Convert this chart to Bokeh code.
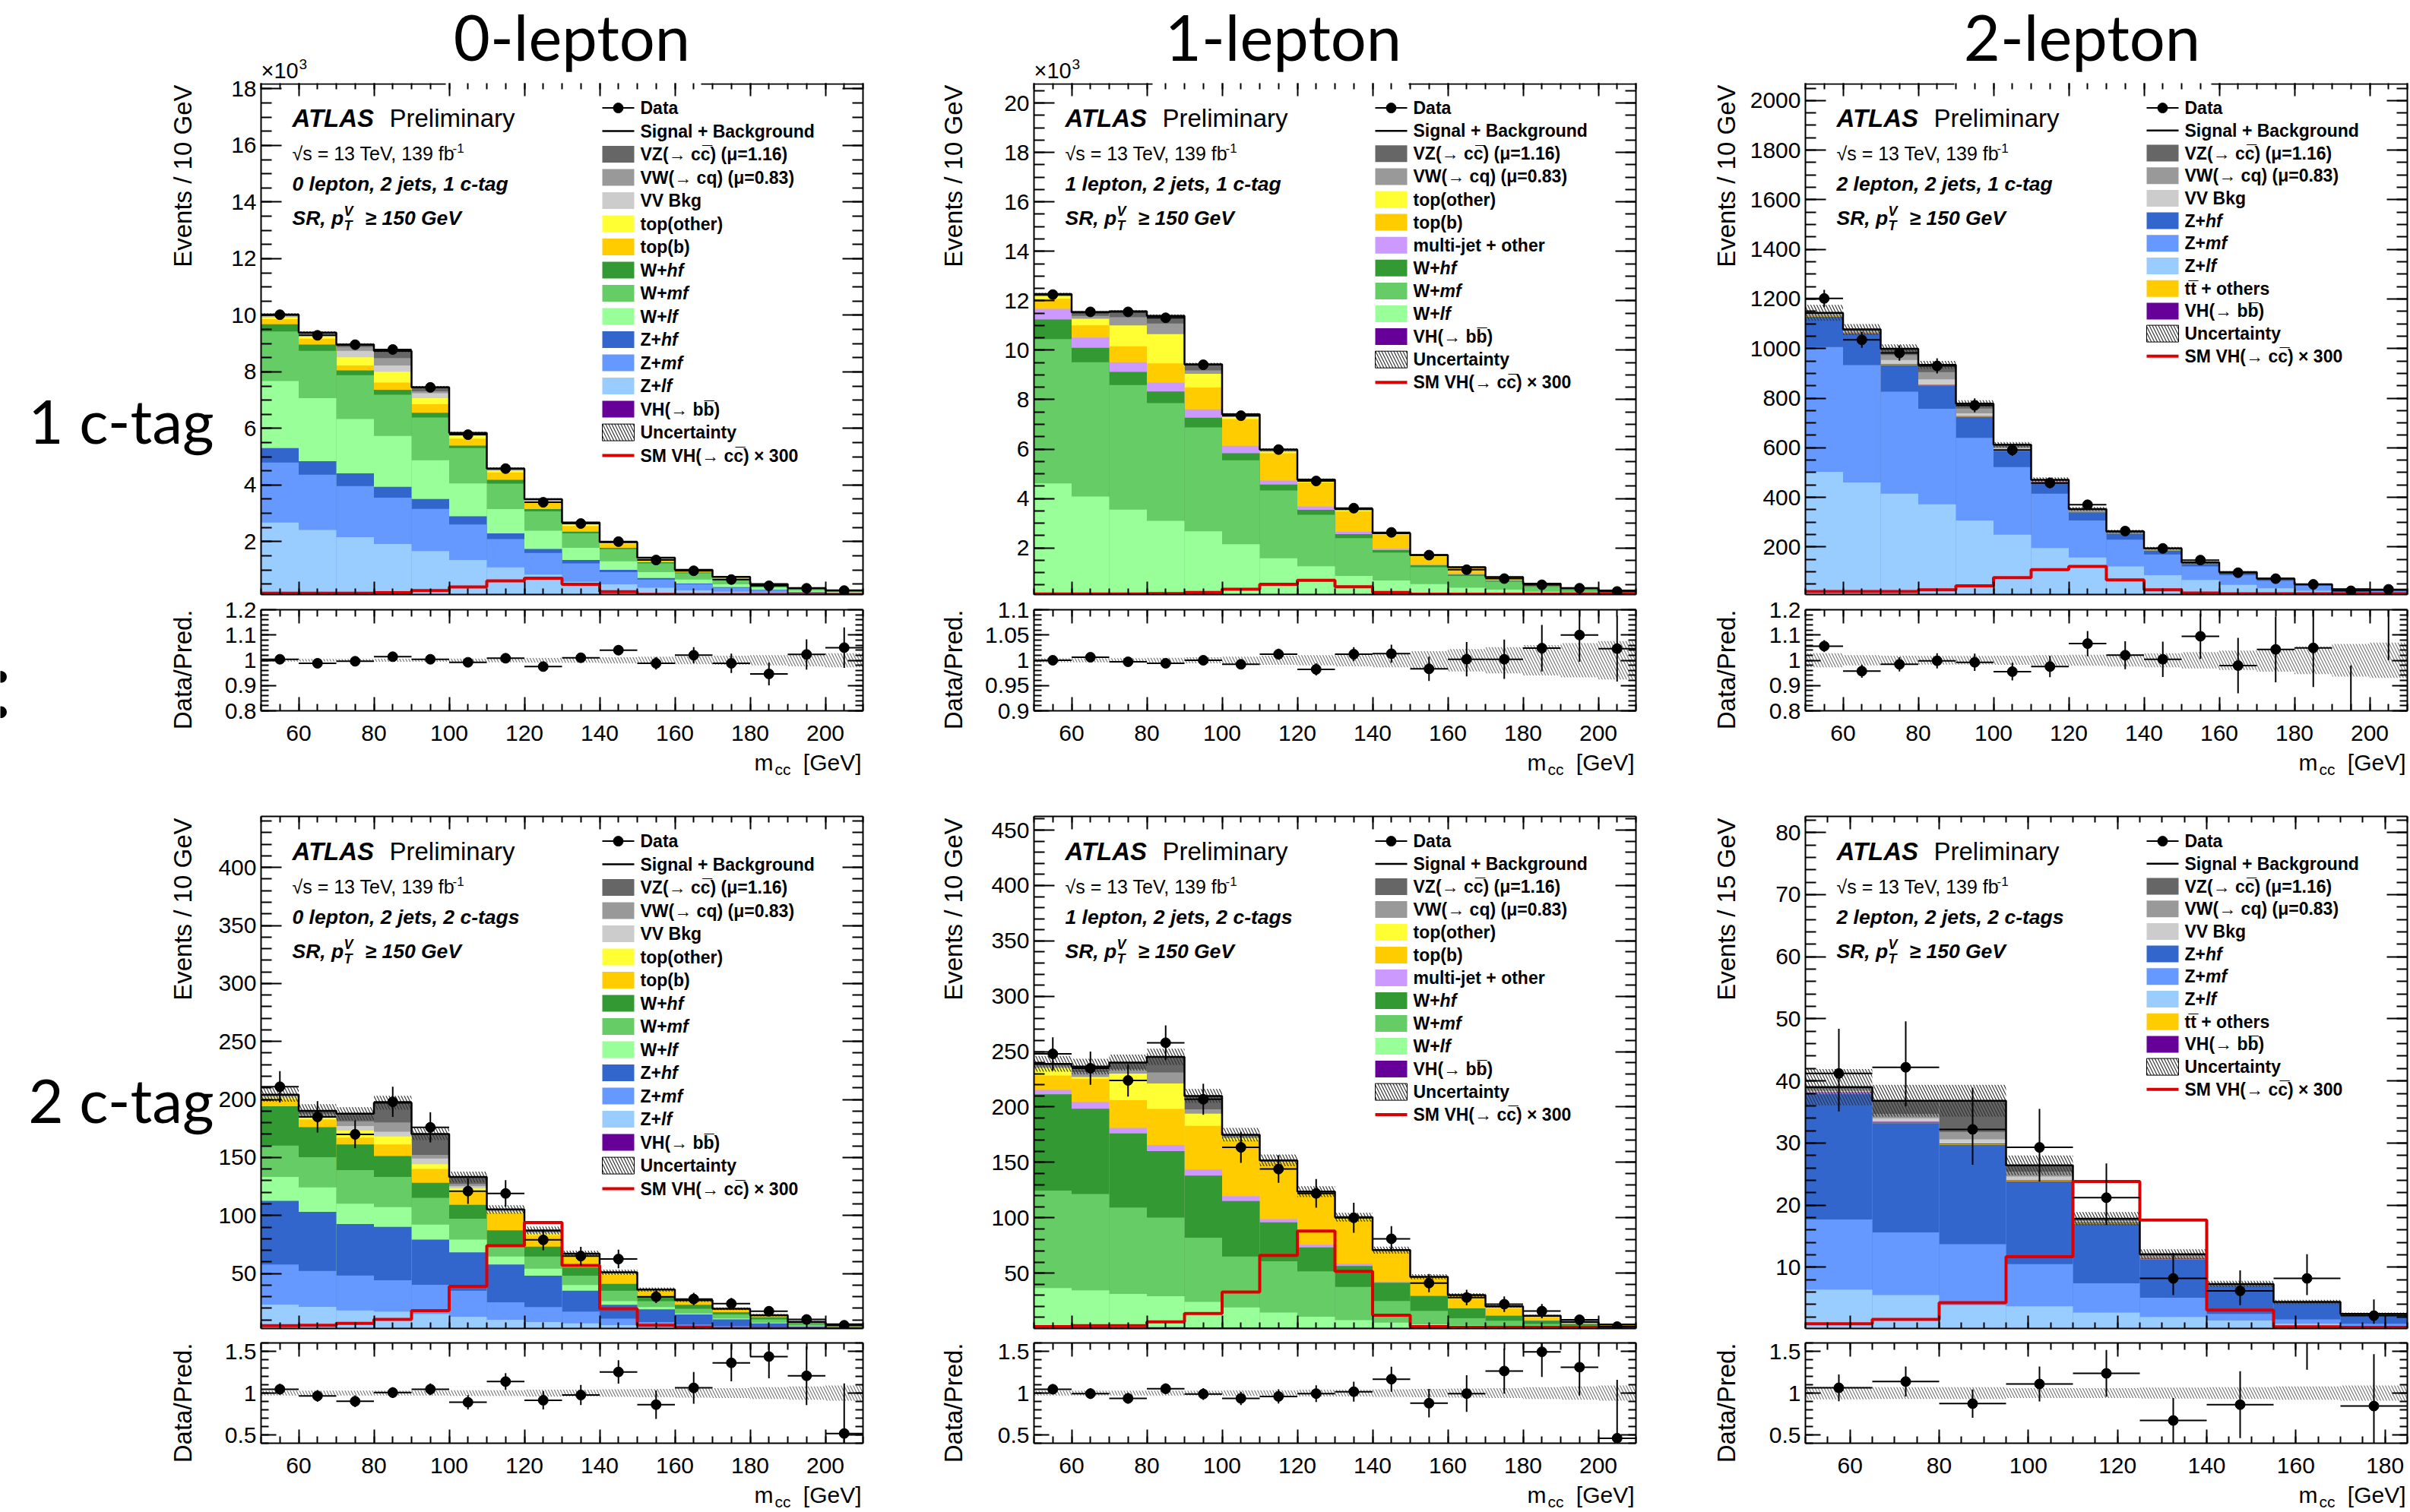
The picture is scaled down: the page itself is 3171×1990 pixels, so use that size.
import numpy as np
from bokeh.plotting import figure
from bokeh.layouts import row, column
from bokeh.models import Label, LinearAxis, FixedTicker, CustomJSTickFormatter, Range1d
from bokeh.embed import file_html
from bokeh.resources import INLINE

# ====================== DATA ======================
edges_10gev = [50, 60, 70, 80, 90, 100, 110, 120, 130, 140, 150, 160, 170, 180, 190, 200, 210]
edges_15gev = [50, 65, 80, 95, 110, 125, 140, 155, 170, 185]

# ---- 0 lepton, 2 jets, 1 c-tag  (events x 10^3) ----
l0c1_vhbb = [0.004, 0.004, 0.004, 0.004, 0.004, 0.004, 0.003, 0.003, 0.002, 0.002, 0.001, 0.001, 0.001, 0.001, 0.001, 0.001]
l0c1_zlf = [2.67, 2.41, 2.15, 1.91, 1.66, 1.35, 1.09, 0.83, 0.58, 0.49, 0.37, 0.28, 0.23, 0.20, 0.15, 0.12]
l0c1_zmf = [2.12, 1.95, 1.81, 1.64, 1.49, 1.25, 1.00, 0.77, 0.65, 0.43, 0.29, 0.21, 0.14, 0.08, 0.06, 0.05]
l0c1_zhf = [0.51, 0.48, 0.45, 0.38, 0.35, 0.29, 0.20, 0.14, 0.12, 0.08, 0.05, 0.03, 0.02, 0.02, 0.01, 0.01]
l0c1_wlf = [2.37, 2.23, 1.92, 1.80, 1.37, 1.16, 0.86, 0.64, 0.43, 0.30, 0.21, 0.14, 0.10, 0.07, 0.05, 0.04]
l0c1_wmf = [1.75, 1.67, 1.55, 1.46, 1.51, 1.25, 0.90, 0.69, 0.51, 0.43, 0.31, 0.22, 0.15, 0.09, 0.06, 0.04]
l0c1_whf = [0.26, 0.22, 0.17, 0.17, 0.17, 0.09, 0.13, 0.08, 0.06, 0.05, 0.04, 0.03, 0.02, 0.01, 0.01, 0.005]
l0c1_topb = [0.18, 0.21, 0.17, 0.26, 0.30, 0.25, 0.26, 0.21, 0.20, 0.14, 0.08, 0.04, 0.04, 0.01, 0.01, 0.005]
l0c1_topo = [0.05, 0.08, 0.29, 0.38, 0.22, 0.09, 0.05, 0.07, 0.05, 0.03, 0.03, 0.02, 0.02, 0.005, 0.003, 0.002]
l0c1_vv = [0.04, 0.05, 0.23, 0.22, 0.17, 0.04, 0.03, 0.03, 0.03, 0.01, 0.02, 0.01, 0.01, 0.005, 0.003, 0.002]
l0c1_vw = [0.03, 0.04, 0.13, 0.26, 0.07, 0.03, 0.03, 0.02, 0.02, 0.01, 0.01, 0.01, 0.01, 0.003, 0.002, 0.001]
l0c1_vz = [0.04, 0.04, 0.09, 0.26, 0.14, 0.04, 0.03, 0.02, 0.02, 0.01, 0.02, 0.01, 0.01, 0.003, 0.002, 0.001]
l0c1_data = [10.02, 9.29, 8.96, 8.79, 7.45, 5.78, 4.58, 3.39, 2.64, 2.00, 1.35, 0.97, 0.66, 0.44, 0.35, 0.27]
l0c1_data_err = [0.10, 0.096, 0.095, 0.094, 0.086, 0.076, 0.068, 0.058, 0.051, 0.045, 0.037, 0.031, 0.026, 0.021, 0.019, 0.016]
l0c1_signal300 = [0.18, 0.18, 0.18, 0.20, 0.27, 0.40, 0.61, 0.71, 0.49, 0.23, 0.14, 0.13, 0.13, 0.13, 0.13, 0.13]
l0c1_ratio = [1.004, 0.988, 0.996, 1.014, 1.004, 0.992, 1.008, 0.975, 1.010, 1.040, 0.988, 1.020, 0.988, 0.946, 1.023, 1.050]
l0c1_ratio_err = [0.008, 0.008, 0.009, 0.010, 0.011, 0.012, 0.014, 0.016, 0.018, 0.020, 0.025, 0.032, 0.038, 0.045, 0.060, 0.080]
l0c1_unc = [0.005, 0.005, 0.005, 0.006, 0.006, 0.007, 0.008, 0.009, 0.010, 0.012, 0.014, 0.016, 0.018, 0.020, 0.024, 0.028]

# ---- 1 lepton, 2 jets, 1 c-tag  (events x 10^3) ----
l1c1_vhbb = [0.02, 0.02, 0.02, 0.02, 0.02, 0.015, 0.015, 0.01, 0.01, 0.01, 0.005, 0.005, 0.004, 0.003, 0.002, 0.002]
l1c1_wlf = [4.59, 4.06, 3.53, 3.08, 2.65, 2.14, 1.57, 1.25, 0.86, 0.67, 0.53, 0.39, 0.31, 0.23, 0.16, 0.12]
l1c1_wmf = [5.84, 5.43, 5.04, 4.76, 4.21, 3.39, 2.74, 2.08, 1.53, 1.13, 0.69, 0.47, 0.32, 0.20, 0.14, 0.10]
l1c1_whf = [0.79, 0.59, 0.53, 0.47, 0.39, 0.29, 0.24, 0.20, 0.16, 0.10, 0.07, 0.06, 0.04, 0.03, 0.02, 0.015]
l1c1_mj = [0.43, 0.41, 0.39, 0.36, 0.34, 0.30, 0.16, 0.14, 0.10, 0.06, 0.04, 0.04, 0.02, 0.02, 0.01, 0.01]
l1c1_topb = [0.41, 0.49, 0.65, 0.78, 0.88, 1.08, 1.11, 0.98, 0.82, 0.57, 0.32, 0.22, 0.09, 0.05, 0.03, 0.02]
l1c1_topo = [0.10, 0.27, 0.84, 1.18, 0.55, 0.08, 0.06, 0.04, 0.04, 0.02, 0.02, 0.01, 0.02, 0.01, 0.005, 0.003]
l1c1_vw = [0.05, 0.12, 0.33, 0.43, 0.14, 0.06, 0.04, 0.03, 0.03, 0.02, 0.02, 0.02, 0.01, 0.01, 0.005, 0.002]
l1c1_vz = [0.04, 0.14, 0.24, 0.31, 0.25, 0.05, 0.04, 0.03, 0.03, 0.02, 0.02, 0.01, 0.01, 0.003, 0.002, 0.001]
l1c1_data = [12.25, 11.55, 11.55, 11.31, 9.41, 7.35, 5.98, 4.71, 3.61, 2.63, 1.71, 1.12, 0.76, 0.51, 0.37, 0.24]
l1c1_data_err = [0.11, 0.107, 0.107, 0.106, 0.097, 0.086, 0.077, 0.069, 0.060, 0.051, 0.041, 0.033, 0.028, 0.023, 0.019, 0.015]
l1c1_signal300 = [0.14, 0.14, 0.14, 0.15, 0.20, 0.33, 0.53, 0.69, 0.43, 0.20, 0.13, 0.13, 0.13, 0.13, 0.13, 0.13]
l1c1_ratio = [1.000, 1.006, 0.997, 0.994, 1.000, 0.992, 1.012, 0.982, 1.012, 1.013, 0.983, 1.002, 1.002, 1.024, 1.050, 1.023]
l1c1_ratio_err = [0.006, 0.006, 0.006, 0.007, 0.007, 0.008, 0.011, 0.012, 0.014, 0.018, 0.024, 0.034, 0.039, 0.046, 0.053, 0.065]
l1c1_unc = [0.004, 0.004, 0.004, 0.005, 0.006, 0.007, 0.009, 0.010, 0.012, 0.014, 0.018, 0.022, 0.026, 0.030, 0.034, 0.038]

# ---- 2 lepton, 2 jets, 1 c-tag  (events) ----
l2c1_zlf = [503, 460, 415, 372, 307, 249, 196, 157, 121, 86, 67, 47, 33, 23, 13, 12]
l2c1_zmf = [503, 473, 411, 385, 333, 273, 219, 150, 108, 84, 54, 39, 30, 20, 12, 11]
l2c1_zhf = [123, 128, 107, 94, 84, 65, 45, 33, 25, 16, 10, 8, 6, 4, 3, 3]
l2c1_tt = [2, 2, 2, 2, 2, 2, 1, 1, 1, 1, 1, 1, 0.5, 0.5, 0.3, 0.3]
l2c1_vhbb = [1, 1, 1, 1, 1, 1, 1, 1, 0.5, 0.5, 0.5, 0.3, 0.3, 0.2, 0.1, 0.1]
l2c1_vv = [4, 5, 18, 22, 12, 8, 3, 3, 2, 2, 1, 1, 0.5, 0.5, 0.3, 0.3]
l2c1_vw = [4, 4, 20, 29, 19, 7, 3, 4, 2, 2, 2, 1, 1, 0.5, 0.2, 0.2]
l2c1_vz = [4, 4, 25, 29, 20, 7, 3, 4, 3, 3, 2, 1, 1, 0.5, 0.2, 0.2]
l2c1_data = [1202, 1035, 982, 930, 771, 591, 458, 370, 264, 194, 147, 96, 72, 49, 23, 29]
l2c1_data_err = [35, 32, 31, 30.5, 28, 24, 21, 19, 16, 14, 12, 10, 8.5, 7, 5, 5.4]
l2c1_signal300 = [20, 20, 20, 27, 43, 76, 108, 121, 67, 27, 14, 11, 11, 11, 11, 11]
l2c1_ratio = [1.056, 0.957, 0.984, 0.998, 0.992, 0.955, 0.975, 1.066, 1.020, 1.004, 1.095, 0.979, 1.043, 1.049, 0.780, 1.260]
l2c1_ratio_err = [0.024, 0.026, 0.028, 0.030, 0.034, 0.035, 0.042, 0.050, 0.055, 0.070, 0.090, 0.110, 0.130, 0.155, 0.200, 0.260]
l2c1_unc = [0.028, 0.020, 0.018, 0.017, 0.017, 0.018, 0.020, 0.022, 0.025, 0.028, 0.032, 0.038, 0.045, 0.055, 0.065, 0.070]

# ---- 0 lepton, 2 jets, 2 c-tags  (events) ----
l0c2_vhbb = [0.2, 0.2, 0.2, 0.2, 0.2, 0.2, 0.2, 0.1, 0.1, 0.1, 0.1, 0.05, 0.05, 0.05, 0.02, 0.02]
l0c2_zlf = [23, 21, 18, 17, 15, 12.5, 10, 8, 7, 5.4, 4, 3, 2, 1.5, 1, 0.8]
l0c2_zmf = [34.5, 31, 30, 27, 25, 22.5, 15, 13, 10, 5.6, 4, 3, 2.5, 1.8, 1.2, 0.9]
l0c2_zhf = [55, 51, 44.5, 46, 39, 33, 32.5, 27, 18, 12, 11, 8.6, 5.9, 3.7, 2, 1.5]
l0c2_wlf = [20.5, 21, 17.5, 17, 13, 11, 7, 6, 5, 3, 2, 0.9, 0.8, 0.6, 0.4, 0.3]
l0c2_wmf = [27, 26, 29, 26, 23, 18, 8.5, 10.5, 8, 9, 5, 4.1, 3.4, 2.8, 1.6, 1.2]
l0c2_whf = [34, 26, 22, 18, 13, 12, 14, 8.5, 7, 6, 4, 3.4, 2.1, 1.8, 1, 0.8]
l0c2_topb = [6, 6.5, 6, 10, 12, 12, 15, 10, 9, 8, 5, 3, 2.3, 1.4, 0.8, 0.5]
l0c2_topo = [1.5, 1.5, 6, 7, 4, 2, 1, 1.5, 1, 0.7, 0.3, 0.3, 0.2, 0.1, 0.1, 0.1]
l0c2_vv = [1, 1.5, 4, 4, 5, 2, 1, 1, 0.7, 0.5, 0.3, 0.3, 0.2, 0.1, 0.1, 0.05]
l0c2_vw = [0.8, 2, 4, 8, 3, 2, 0.5, 0.8, 0.6, 0.4, 0.2, 0.2, 0.1, 0.1, 0.05, 0.03]
l0c2_vz = [0.7, 2.5, 6.5, 17, 18, 6, 0.5, 0.7, 0.7, 0.4, 0.2, 0.2, 0.1, 0.1, 0.05, 0.02]
l0c2_data = [211, 185, 170, 198, 176, 121, 119, 79, 65, 62.5, 30, 28, 24, 17.5, 10.4, 5.4]
l0c2_data_err = [13.5, 13.5, 12, 13, 13, 11, 11.5, 9, 8, 8, 5.5, 5.3, 5, 4.2, 3.2, 2.3]
l0c2_signal300 = [5, 5.4, 7, 10.4, 18, 39, 74, 94, 57, 19.6, 5.4, 3.7, 2.5, 2.5, 2.5, 2.5]
l0c2_ratio = [1.046, 0.966, 0.902, 1.006, 1.046, 0.890, 1.138, 0.914, 0.977, 1.253, 0.862, 1.063, 1.362, 1.437, 1.207, 0.517]
l0c2_ratio_err = [0.065, 0.070, 0.070, 0.065, 0.070, 0.085, 0.100, 0.110, 0.120, 0.140, 0.170, 0.190, 0.220, 0.260, 0.350, 0.600]
l0c2_unc = [0.030, 0.030, 0.030, 0.030, 0.030, 0.035, 0.035, 0.040, 0.040, 0.045, 0.050, 0.055, 0.060, 0.070, 0.080, 0.090]

# ---- 1 lepton, 2 jets, 2 c-tags  (events) ----
l1c2_vhbb = [1.5, 1.5, 1.2, 1.2, 1, 1, 0.8, 0.6, 0.5, 0.4, 0.3, 0.2, 0.1, 0.1, 0.05, 0.05]
l1c2_wlf = [35, 33, 30, 28, 23, 18, 13.6, 10, 7, 5, 3.5, 2.5, 2, 1.2, 0.7, 0.4]
l1c2_wmf = [88, 87, 78, 71, 58, 46, 46.4, 41, 30, 19.5, 12.2, 6.5, 5, 2.8, 1.8, 1.0]
l1c2_whf = [87, 77, 67, 60, 56, 50, 35, 21.6, 19, 16.5, 13.3, 9, 4.4, 3, 1.5, 0.9]
l1c2_mj = [4, 6, 5, 5.5, 5.6, 4.5, 3, 2.4, 2, 1, 0.6, 0.4, 0.3, 0.2, 0.1, 0.1]
l1c2_topb = [13, 21, 25, 32.5, 39.4, 50.5, 51, 46, 40, 27, 15.9, 10.6, 6.3, 3.3, 1.6, 0.9]
l1c2_topo = [7, 1.5, 24, 23, 11, 2, 0.7, 0.7, 0.7, 0.5, 0.3, 0.3, 0.6, 0.3, 0.1, 0.1]
l1c2_vw = [2, 4.5, 4, 10, 4, 1.5, 0.6, 0.6, 0.6, 0.5, 0.3, 0.3, 0.7, 0.3, 0.1, 0.05]
l1c2_vz = [1.5, 5, 6, 14, 12, 1.5, 0.7, 0.7, 0.7, 0.4, 0.3, 0.4, 0.7, 0.3, 0.1, 0.05]
l1c2_data = [248, 235, 224, 258, 207, 163.6, 144, 122, 100, 81, 41, 28, 22, 15.7, 7.9, 1.7]
l1c2_data_err = [15, 15, 14.5, 15.7, 14, 14, 12.5, 13, 13.5, 11.5, 8.3, 7, 7, 6.5, 4, 2]
l1c2_signal300 = [1.7, 2.6, 2.6, 6, 13.6, 33, 66, 88, 51.6, 12, 1.7, 1, 1, 1, 1, 1]
l1c2_ratio = [1.046, 0.994, 0.937, 1.052, 0.989, 0.937, 0.960, 0.994, 1.017, 1.167, 0.879, 0.994, 1.264, 1.494, 1.310, 0.460]
l1c2_ratio_err = [0.060, 0.065, 0.065, 0.065, 0.070, 0.080, 0.085, 0.100, 0.120, 0.150, 0.170, 0.220, 0.270, 0.300, 0.340, 0.700]
l1c2_unc = [0.030, 0.030, 0.030, 0.030, 0.030, 0.035, 0.035, 0.040, 0.040, 0.045, 0.050, 0.055, 0.060, 0.070, 0.080, 0.090]

# ---- 2 lepton, 2 jets, 2 c-tags  (events, 15 GeV bins) ----
l2c2_zlf = [6.4, 5.5, 3.9, 3.7, 2.7, 2.0, 1.4, 0.9, 0.5]
l2c2_zmf = [11.3, 10.1, 9.8, 6.8, 4.7, 3.1, 1.1, 0.7, 0.4]
l2c2_zhf = [20.2, 17.6, 16.0, 13.3, 9.6, 6.2, 4.5, 2.7, 1.4]
l2c2_tt = [0.1, 0.1, 0.1, 0.1, 0.1, 0.1, 0.05, 0.02, 0.05]
l2c2_vhbb = [0.1, 0.1, 0.1, 0.1, 0.1, 0.1, 0.05, 0.02, 0.02]
l2c2_vv = [0.3, 0.6, 0.7, 0.6, 0.2, 0.2, 0.05, 0.01, 0.01]
l2c2_vw = [0.3, 0.7, 1.2, 0.8, 0.2, 0.2, 0.05, 0.03, 0.05]
l2c2_vz = [0.3, 2.1, 5.0, 1.0, 0.2, 0.2, 0.1, 0.02, 0.05]
l2c2_data = [41.2, 42.2, 32.2, 29.3, 21.2, 8.2, 6.2, 8.2, 2.2]
l2c2_data_err_up = [7.2, 7.4, 6.7, 6.2, 5.5, 4.1, 3.3, 3.9, 2.6]
l2c2_data_err_dn = [6.1, 6.3, 5.7, 5.5, 4.4, 2.7, 2.3, 2.7, 1.3]
l2c2_signal300 = [0.9, 1.6, 4.3, 11.7, 23.8, 17.6, 3.1, 0.4, 0.3]
l2c2_ratio = [1.063, 1.138, 0.874, 1.109, 1.236, 0.672, 0.862, 1.860, 0.845]
l2c2_ratio_err = [0.16, 0.18, 0.17, 0.21, 0.28, 0.27, 0.40, 0.58, 0.62]
l2c2_unc = [0.075, 0.070, 0.070, 0.060, 0.060, 0.065, 0.070, 0.080, 0.090]

# ====================== STYLE / LAYOUT ======================
C_VZ, C_VW, C_VV = "#666666", "#999999", "#cccccc"
C_TOPO, C_TOPB = "#ffff33", "#ffcc00"
C_WHF, C_WMF, C_WLF = "#339933", "#66cc66", "#99ff99"
C_ZHF, C_ZMF, C_ZLF = "#3366cc", "#6699ff", "#99ccff"
C_VHBB, C_MJ, C_TT = "#660099", "#cc99ff", "#ffcc00"
C_SIG = "#dd0000"
FONT = "Liberation Sans"
TFONT = "Lato"
RAISE = 0.35   # baseline correction (em) for alphabetic-baseline labels

FW = 792
COLS = [(60, 100), (80, 98), (80, 4)]          # left / right borders of each column's figures
COL_X0 = [283, 1280, 2295]                     # page x of each column's figures
TEXT_W = [283, 45, 45]                         # text strips left of each column
MAIN_ROWS = [(5, 673, 5), (44, 674, 10)]
RATIO_ROWS = [(15, 133, 55), (9, 132, 55)]
TITLE_H = 104
XT_H = [40, 36]
PAGE_H = 1990
LEG_FS = 23

CC = "cc\u0305"
BB = "bb\u0305"
WP, ZP = ("W+", 35.1), ("Z+", 27.5)
LEG_0L = [("data", "Data"), ("line", "Signal + Background"),
          ("fill", "VZ(\u2192 " + CC + ") (\u03bc=1.16)", C_VZ), ("fill", "VW(\u2192 cq) (\u03bc=0.83)", C_VW),
          ("fill", "VV Bkg", C_VV), ("fill", "top(other)", C_TOPO), ("fill", "top(b)", C_TOPB),
          ("fill", [WP, ("hf", 0)], C_WHF), ("fill", [WP, ("mf", 0)], C_WMF),
          ("fill", [WP, ("lf", 0)], C_WLF), ("fill", [ZP, ("hf", 0)], C_ZHF),
          ("fill", [ZP, ("mf", 0)], C_ZMF), ("fill", [ZP, ("lf", 0)], C_ZLF),
          ("fill", "VH(\u2192 " + BB + ")", C_VHBB), ("hatch", "Uncertainty"),
          ("red", "SM VH(\u2192 " + CC + ") \u00d7 300")]
LEG_1L = [("data", "Data"), ("line", "Signal + Background"),
          ("fill", "VZ(\u2192 " + CC + ") (\u03bc=1.16)", C_VZ), ("fill", "VW(\u2192 cq) (\u03bc=0.83)", C_VW),
          ("fill", "top(other)", C_TOPO), ("fill", "top(b)", C_TOPB), ("fill", "multi-jet + other", C_MJ),
          ("fill", [WP, ("hf", 0)], C_WHF), ("fill", [WP, ("mf", 0)], C_WMF),
          ("fill", [WP, ("lf", 0)], C_WLF),
          ("fill", "VH(\u2192 " + BB + ")", C_VHBB), ("hatch", "Uncertainty"),
          ("red", "SM VH(\u2192 " + CC + ") \u00d7 300")]
LEG_2L = [("data", "Data"), ("line", "Signal + Background"),
          ("fill", "VZ(\u2192 " + CC + ") (\u03bc=1.16)", C_VZ), ("fill", "VW(\u2192 cq) (\u03bc=0.83)", C_VW),
          ("fill", "VV Bkg", C_VV),
          ("fill", [ZP, ("hf", 0)], C_ZHF), ("fill", [ZP, ("mf", 0)], C_ZMF),
          ("fill", [ZP, ("lf", 0)], C_ZLF), ("fill", "tt\u0305 + others", C_TT),
          ("fill", "VH(\u2192 " + BB + ")", C_VHBB), ("hatch", "Uncertainty"),
          ("red", "SM VH(\u2192 " + CC + ") \u00d7 300")]

X10 = (list(range(60, 201, 20)), list(np.arange(50, 210.1, 5)))
X15 = (list(range(60, 181, 20)), list(np.arange(50, 185.1, 5)))

PANELS = [
    dict(edges=edges_10gev, xr=(50, 210), xt=X10, yr=(0.13, 18.2), ryr=(0.8, 1.2),
         yt=(list(range(2, 19, 2)), list(np.arange(0.5, 18.2, 0.5))),
         rt=([0.8, 0.9, 1.0, 1.1, 1.2], list(np.arange(0.8, 1.201, 0.02))),
         stack=[(l0c1_vhbb, C_VHBB), (l0c1_zlf, C_ZLF), (l0c1_zmf, C_ZMF), (l0c1_zhf, C_ZHF),
                (l0c1_wlf, C_WLF), (l0c1_wmf, C_WMF), (l0c1_whf, C_WHF), (l0c1_topb, C_TOPB),
                (l0c1_topo, C_TOPO), (l0c1_vv, C_VV), (l0c1_vw, C_VW), (l0c1_vz, C_VZ)],
         data=l0c1_data, eup=l0c1_data_err, edn=l0c1_data_err, sig=l0c1_signal300,
         ratio=l0c1_ratio, rerr=l0c1_ratio_err, unc=l0c1_unc,
         leg=LEG_0L, pitch=30.5, chan="0 lepton, 2 jets, 1 c-tag", ylab="Events / 10 GeV"),
    dict(edges=edges_10gev, xr=(50, 210), xt=X10, yr=(0.115, 20.8), ryr=(0.9, 1.1),
         yt=(list(range(2, 21, 2)), list(np.arange(0.5, 20.8, 0.5))),
         rt=([0.9, 0.95, 1.0, 1.05, 1.1], list(np.arange(0.9, 1.1001, 0.01))),
         stack=[(l1c1_vhbb, C_VHBB), (l1c1_wlf, C_WLF), (l1c1_wmf, C_WMF), (l1c1_whf, C_WHF),
                (l1c1_mj, C_MJ), (l1c1_topb, C_TOPB), (l1c1_topo, C_TOPO), (l1c1_vw, C_VW), (l1c1_vz, C_VZ)],
         data=l1c1_data, eup=l1c1_data_err, edn=l1c1_data_err, sig=l1c1_signal300,
         ratio=l1c1_ratio, rerr=l1c1_ratio_err, unc=l1c1_unc,
         leg=LEG_1L, pitch=30.1, chan="1 lepton, 2 jets, 1 c-tag", ylab="Events / 10 GeV"),
    dict(edges=edges_10gev, xr=(50, 210), xt=X10, yr=(8, 2070), ryr=(0.8, 1.2),
         yt=(list(range(200, 2001, 200)), list(range(50, 2070, 50))),
         rt=([0.8, 0.9, 1.0, 1.1, 1.2], list(np.arange(0.8, 1.201, 0.02))),
         stack=[(l2c1_zlf, C_ZLF), (l2c1_zmf, C_ZMF), (l2c1_zhf, C_ZHF), (l2c1_tt, C_TT),
                (l2c1_vhbb, C_VHBB), (l2c1_vv, C_VV), (l2c1_vw, C_VW), (l2c1_vz, C_VZ)],
         data=l2c1_data, eup=l2c1_data_err, edn=l2c1_data_err, sig=l2c1_signal300,
         ratio=l2c1_ratio, rerr=l2c1_ratio_err, unc=l2c1_unc,
         leg=LEG_2L, pitch=29.7, chan="2 lepton, 2 jets, 1 c-tag", ylab="Events / 10 GeV"),
    dict(edges=edges_10gev, xr=(50, 210), xt=X10, yr=(2.6, 444), ryr=(0.4, 1.6),
         yt=(list(range(50, 401, 50)), list(range(10, 444, 10))),
         rt=([0.5, 1.0, 1.5], list(np.arange(0.4, 1.601, 0.1))),
         stack=[(l0c2_vhbb, C_VHBB), (l0c2_zlf, C_ZLF), (l0c2_zmf, C_ZMF), (l0c2_zhf, C_ZHF),
                (l0c2_wlf, C_WLF), (l0c2_wmf, C_WMF), (l0c2_whf, C_WHF), (l0c2_topb, C_TOPB),
                (l0c2_topo, C_TOPO), (l0c2_vv, C_VV), (l0c2_vw, C_VW), (l0c2_vz, C_VZ)],
         data=l0c2_data, eup=l0c2_data_err, edn=l0c2_data_err, sig=l0c2_signal300,
         ratio=l0c2_ratio, rerr=l0c2_ratio_err, unc=l0c2_unc,
         leg=LEG_0L, pitch=30.5, chan="0 lepton, 2 jets, 2 c-tags", ylab="Events / 10 GeV"),
    dict(edges=edges_10gev, xr=(50, 210), xt=X10, yr=(0, 462.4), ryr=(0.4, 1.6),
         yt=(list(range(50, 451, 50)), list(range(10, 462, 10))),
         rt=([0.5, 1.0, 1.5], list(np.arange(0.4, 1.601, 0.1))),
         stack=[(l1c2_vhbb, C_VHBB), (l1c2_wlf, C_WLF), (l1c2_wmf, C_WMF), (l1c2_whf, C_WHF),
                (l1c2_mj, C_MJ), (l1c2_topb, C_TOPB), (l1c2_topo, C_TOPO), (l1c2_vw, C_VW), (l1c2_vz, C_VZ)],
         data=l1c2_data, eup=l1c2_data_err, edn=l1c2_data_err, sig=l1c2_signal300,
         ratio=l1c2_ratio, rerr=l1c2_ratio_err, unc=l1c2_unc,
         leg=LEG_1L, pitch=30.0, chan="1 lepton, 2 jets, 2 c-tags", ylab="Events / 10 GeV"),
    dict(edges=edges_15gev, xr=(50, 185), xt=X15, yr=(0.13, 82.6), ryr=(0.4, 1.6),
         yt=(list(range(10, 81, 10)), list(range(2, 83, 2))),
         rt=([0.5, 1.0, 1.5], list(np.arange(0.4, 1.601, 0.1))),
         stack=[(l2c2_zlf, C_ZLF), (l2c2_zmf, C_ZMF), (l2c2_zhf, C_ZHF), (l2c2_tt, C_TT),
                (l2c2_vhbb, C_VHBB), (l2c2_vv, C_VV), (l2c2_vw, C_VW), (l2c2_vz, C_VZ)],
         data=l2c2_data, eup=l2c2_data_err_up, edn=l2c2_data_err_dn, sig=l2c2_signal300,
         ratio=l2c2_ratio, rerr=l2c2_ratio_err, unc=l2c2_unc,
         leg=LEG_2L, pitch=29.7, chan="2 lepton, 2 jets, 2 c-tags", ylab="Events / 15 GeV"),
]


# ====================== HELPERS ======================
class Frame:
    def __init__(self, xr, yr, fh):
        self.xr, self.yr, self.fh = xr, yr, fh

    def X(self, px):
        return self.xr[0] + px / FW * (self.xr[1] - self.xr[0])

    def Y(self, py):
        return self.yr[1] - py / self.fh * (self.yr[1] - self.yr[0])


def new_fig(col, dims, xr, yr):
    l, r = COLS[col]
    t, fh, b = dims
    p = figure(width=l + FW + r, height=t + fh + b, x_range=Range1d(*xr), y_range=Range1d(*yr),
               output_backend="svg", toolbar_location=None, tools="",
               min_border_left=l, min_border_right=r, min_border_top=t, min_border_bottom=b,
               background_fill_color="white", border_fill_color="white", outline_line_color=None)
    p.xgrid.visible = False
    p.ygrid.visible = False
    return p, Frame(xr, yr, fh)


def text_fig(fw, h, l=0, r=0):
    """plain text area; its frame is fw wide (data x = px from frame left), data y = px from bottom"""
    p = figure(width=l + fw + r, height=h, x_range=Range1d(0, fw), y_range=Range1d(0, h),
               output_backend="svg", toolbar_location=None, tools="",
               x_axis_type=None, y_axis_type=None,
               min_border_left=l, min_border_right=r, min_border_top=0, min_border_bottom=0,
               background_fill_color="white", border_fill_color="white", outline_line_color=None)
    return p


def style_axis(ax, ticks, tin, tmin, show, standoff=6):
    ax.ticker = FixedTicker(ticks=list(ticks[0]), minor_ticks=[float(v) for v in ticks[1]])
    ax.formatter = CustomJSTickFormatter(code="return String(Math.round(tick * 1000) / 1000);")
    ax.axis_line_color = "black"
    ax.axis_line_width = 2
    ax.major_tick_line_color = "black"
    ax.minor_tick_line_color = "black"
    ax.major_tick_line_width = 2
    ax.minor_tick_line_width = 2
    ax.major_tick_in = tin
    ax.major_tick_out = 0
    ax.minor_tick_in = tmin
    ax.minor_tick_out = 0
    if show:
        ax.major_label_text_font = FONT
        ax.major_label_text_font_size = "30px"
        ax.major_label_text_color = "black"
        ax.major_label_standoff = standoff
    else:
        ax.major_label_text_font_size = "0px"
        ax.major_label_text_alpha = 0
        ax.major_label_standoff = 0


def add_axes(p, xt, yt, xlen, ylen, xlabels):
    style_axis(p.below[0], xt, xlen[0], xlen[1], xlabels, standoff=19)
    style_axis(p.left[0], yt, ylen[0], ylen[1], True, standoff=6)
    top = LinearAxis()
    style_axis(top, xt, xlen[0], xlen[1], False)
    p.add_layout(top, "above")
    right = LinearAxis()
    style_axis(right, yt, ylen[0], ylen[1], False)
    p.add_layout(right, "right")
    return top


def txt(p, x, y, text, size, font=FONT, style="normal", align="left", baseline="alphabetic",
        angle=0.0, color="black"):
    p.add_layout(Label(x=x, y=y, text=text, text_font=font, text_font_size=f"{size}px",
                       text_font_style=style, text_align=align, text_baseline=baseline,
                       angle=angle, text_color=color))


def ftxt(p, fr, px, py, text, size, **kw):
    """text at a baseline given in px from the frame's top-left"""
    txt(p, fr.X(px), fr.Y(py - RAISE * size), text, size, **kw)


def ptxt(p, h, x, ytop, text, size, **kw):
    """text in a plain text area; baseline ytop measured from the area's top edge"""
    txt(p, x, h - (ytop - RAISE * size), text, size, **kw)


def add_legend(p, fr, items, pitch):
    gx0, gx1, tx, y0 = 449, 491, 499, 32.6
    for i, it in enumerate(items):
        cy = y0 + i * pitch
        kind = it[0]
        yc = fr.Y(cy)
        if kind == "data":
            p.segment(x0=[fr.X(gx0)], y0=[yc], x1=[fr.X(gx1)], y1=[yc], line_color="black", line_width=2)
            p.scatter(x=[fr.X((gx0 + gx1) / 2)], y=[yc], size=13, fill_color="black", line_color="black")
        elif kind == "line":
            p.segment(x0=[fr.X(gx0)], y0=[yc], x1=[fr.X(gx1)], y1=[yc], line_color="black", line_width=2.5)
        elif kind == "red":
            p.segment(x0=[fr.X(gx0)], y0=[yc], x1=[fr.X(gx1)], y1=[yc], line_color=C_SIG, line_width=4)
        elif kind == "fill":
            p.quad(left=[fr.X(gx0)], right=[fr.X(gx1)], bottom=[fr.Y(cy + 11)], top=[fr.Y(cy - 11)],
                   fill_color=it[2], line_color=None)
        elif kind == "hatch":
            p.quad(left=[fr.X(gx0)], right=[fr.X(gx1)], bottom=[fr.Y(cy + 11)], top=[fr.Y(cy - 11)],
                   fill_color=None, line_color="black", line_width=1,
                   hatch_pattern="left_diagonal_line", hatch_color="#333333", hatch_scale=8, hatch_weight=1.2)
        label = it[1]
        if isinstance(label, str):
            txt(p, fr.X(tx), yc, label, LEG_FS, style="bold", baseline="middle")
        else:
            x = tx
            for j, (part, adv) in enumerate(label):
                txt(p, fr.X(x), yc, part, LEG_FS, style="bold" if j == 0 else "bold italic", baseline="middle")
                x += adv


def draw_main(col, rowi, P, gap=None):
    p, fr = new_fig(col, MAIN_ROWS[rowi], P["xr"], P["yr"])
    edges = np.array(P["edges"], float)
    lo, hi = edges[:-1], edges[1:]
    ctr = 0.5 * (lo + hi)
    comps = [np.array(v, float) for v, _ in P["stack"]]
    cum = np.cumsum(comps, axis=0)
    for k in reversed(range(len(comps))):
        p.quad(left=lo, right=hi, bottom=0, top=cum[k], fill_color=P["stack"][k][1], line_color=None)
    total = cum[-1]
    u = np.array(P["unc"], float)
    p.quad(left=lo, right=hi, bottom=total * (1 - u), top=total * (1 + u), fill_color=None, line_color=None,
           hatch_pattern="left_diagonal_line", hatch_color="#333333", hatch_scale=8, hatch_weight=1.2)
    p.step(x=edges, y=np.append(total, total[-1]), mode="after", line_color="black", line_width=2.5)
    sig = np.array(P["sig"], float)
    p.step(x=edges, y=np.append(sig, sig[-1]), mode="after", line_color=C_SIG, line_width=4)
    d = np.array(P["data"], float)
    eu = np.array(P["eup"], float)
    ed = np.array(P["edn"], float)
    p.segment(x0=lo, y0=d, x1=hi, y1=d, line_color="black", line_width=2)
    p.segment(x0=ctr, y0=d - ed, x1=ctr, y1=d + eu, line_color="black", line_width=2)
    p.scatter(x=ctr, y=d, size=13, fill_color="black", line_color="black")

    top = add_axes(p, P["xt"], P["yt"], (17, 8), (27, 14), False)
    if gap is not None:
        # frame top line interrupted where the column title's white box sits
        top.axis_line_alpha = 0
        p.segment(x0=[fr.X(0), fr.X(gap[1])], y0=[fr.Y(1), fr.Y(1)],
                  x1=[fr.X(gap[0]), fr.X(FW)], y1=[fr.Y(1), fr.Y(1)], line_color="black", line_width=2)
    add_legend(p, fr, P["leg"], P["pitch"])

    ftxt(p, fr, 41, 58, "ATLAS", 33, style="bold italic")
    ftxt(p, fr, 169, 58, "Preliminary", 33)
    ftxt(p, fr, 41, 101, "\u221as = 13 TeV, 139 fb", 25)
    ftxt(p, fr, 252, 91, "-1", 17)
    ftxt(p, fr, 41, 142, P["chan"], 26.5, style="bold italic")
    ftxt(p, fr, 41, 187, "SR, p", 26.5, style="bold italic")
    ftxt(p, fr, 109, 194, "T", 18, style="bold italic")
    ftxt(p, fr, 109, 175, "V", 18, style="bold italic")
    ftxt(p, fr, 137, 187, "\u2265 150 GeV", 26.5, style="bold italic")
    return p


def draw_ratio(col, rowi, P):
    dims = RATIO_ROWS[rowi]
    p, fr = new_fig(col, dims, P["xr"], P["ryr"])
    edges = np.array(P["edges"], float)
    lo, hi = edges[:-1], edges[1:]
    ctr = 0.5 * (lo + hi)
    u = np.array(P["unc"], float)
    p.quad(left=lo, right=hi, bottom=1 - u, top=1 + u, fill_color=None, line_color=None,
           hatch_pattern="left_diagonal_line", hatch_color="#777777", hatch_scale=8, hatch_weight=1.2)
    r = np.array(P["ratio"], float)
    e = np.array(P["rerr"], float)
    p.segment(x0=lo, y0=r, x1=hi, y1=r, line_color="black", line_width=2)
    p.segment(x0=ctr, y0=r - e, x1=ctr, y1=r + e, line_color="black", line_width=2)
    p.scatter(x=ctr, y=r, size=13, fill_color="black", line_color="black")
    add_axes(p, P["xt"], P["rt"], (18, 9), (20, 10), True)
    return p


# ====================== BUILD ======================
GAPS = [(243, 579), (156, 493), (196, 534)]
TITLES = [("0-lepton", 409), ("1-lepton", 328), ("2-lepton", 364)]   # centre, px from frame left

columns = []
for c in range(3):
    l, r = COLS[c]
    tfig = text_fig(FW, TITLE_H, l, r)
    ptxt(tfig, TITLE_H, TITLES[c][1], 77, TITLES[c][0], 83, font=TFONT, align="center")
    if c < 2:
        ptxt(tfig, TITLE_H, 0, 103, "\u00d710", 29)
        ptxt(tfig, TITLE_H, 50, 91, "3", 19)
    m1 = draw_main(c, 0, PANELS[c], gap=GAPS[c])
    r1 = draw_ratio(c, 0, PANELS[c])
    m2 = draw_main(c, 1, PANELS[3 + c])
    r2 = draw_ratio(c, 1, PANELS[3 + c])
    xts = []
    for k in range(2):
        h = XT_H[k]
        xf = text_fig(FW, h, l, r)
        ptxt(xf, h, FW - 2, 23, "[GeV]", 30, align="right")
        ptxt(xf, h, FW - 95, 29, "cc", 21, align="right")
        ptxt(xf, h, FW - 118, 23, "m", 30, align="right")
        xts.append(xf)
    columns.append(column(tfig, m1, r1, xts[0], m2, r2, xts[1]))

# vertical text strips (axis titles, row labels)
strips = []
for c in range(3):
    w = TEXT_W[c]
    sx0 = COL_X0[c] - w
    s = text_fig(w, PAGE_H)
    yc = [240, 1254, 2271][c] - sx0
    for (ytop, lab) in [(111, PANELS[c]["ylab"]), (802, "Data/Pred."),
                        (1076, PANELS[3 + c]["ylab"]), (1767, "Data/Pred.")]:
        txt(s, yc, PAGE_H - ytop, lab, 33, align="right", baseline="middle", angle=np.pi / 2)
    if c == 0:
        ptxt(s, PAGE_H, 281, 580, "1 c-tag", 80, font=TFONT, align="right")
        ptxt(s, PAGE_H, 281, 1474, "2 c-tag", 80, font=TFONT, align="right")
        ptxt(s, PAGE_H, -15, 939, ":", 125, font=TFONT)
    strips.append(s)

layout = row(strips[0], columns[0], strips[1], columns[1], strips[2], columns[2])

html = file_html(layout, INLINE, title="VH(cc) mcc distributions")
html = html.replace("<body>", '<body style="margin:0;padding:0;">', 1)
open("out.html", "w").write(html)
